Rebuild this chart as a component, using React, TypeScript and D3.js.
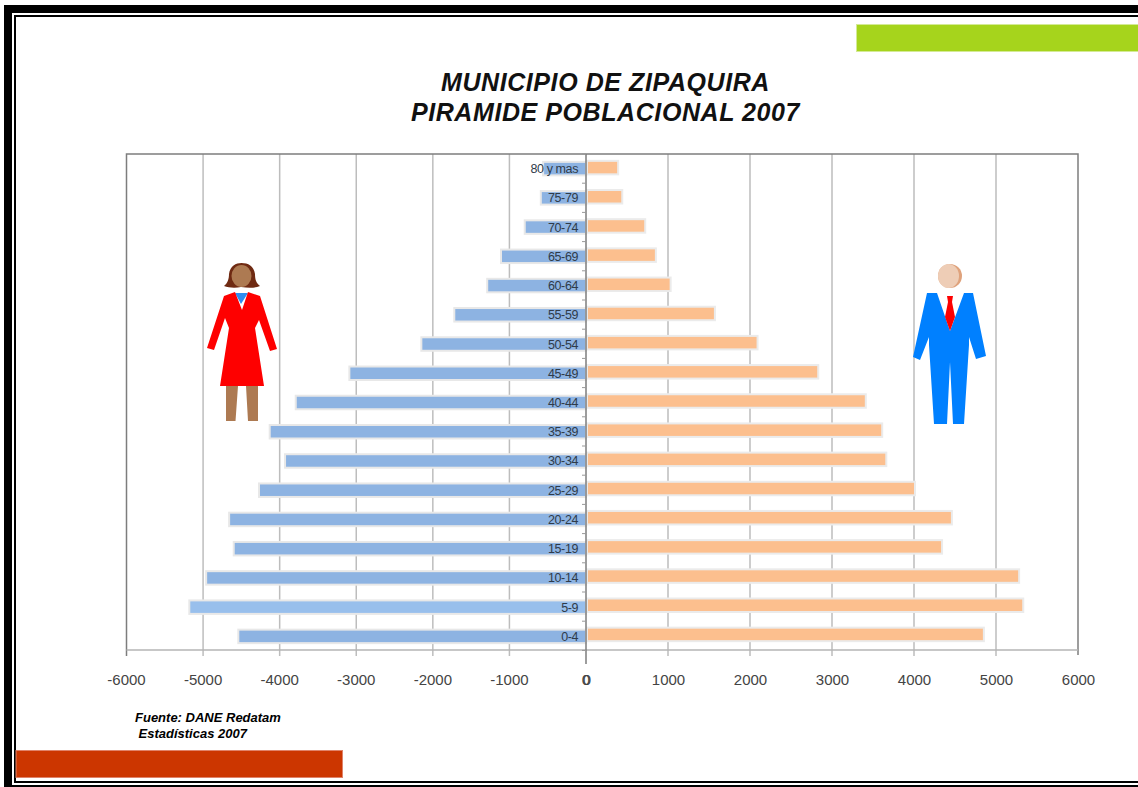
import React from "react";
import * as d3 from "d3";

const categories = ["80 y mas","75-79","70-74","65-69","60-64","55-59","50-54","45-49","40-44","35-39","30-34","25-29","20-24","15-19","10-14","5-9","0-4"];
const mujeres = [560,590,800,1110,1290,1720,2150,3090,3790,4130,3930,4270,4660,4600,4960,5180,4540];
const hombres = [380,430,710,840,1020,1560,2080,2820,3400,3600,3650,4000,4450,4330,5270,5320,4840];
const leftTicks = [-6000,-5000,-4000,-3000,-2000,-1000,0];
const rightTicks = [0,1000,2000,3000,4000,5000,6000];
const titleLines = ["MUNICIPIO DE ZIPAQUIRA","PIRAMIDE POBLACIONAL 2007"];
const sourceLines = ["Fuente: DANE Redatam","Estadísticas 2007"];

const xL = d3.scaleLinear().domain([-6000,0]).range([126.5,586]);
const xR = d3.scaleLinear().domain([0,6000]).range([586,1078]);
const yL = d3.scaleBand().domain(categories).range([154,651]);
const yR = d3.scaleBand().domain(categories).range([153,649]);
const sans = "'Liberation Sans', Arial, sans-serif";

function Woman() {
  return <g>
    <path d="M224 286 C228 283 229 278 229 274 C230 266 236 263 241.5 263 C248 263 254 266 255 274 C255 279 256 283 260 286 C255 288 249 288 241 287 C236 288 229 288 224 286Z" fill="#6f2a12"/>
    <ellipse cx="241.5" cy="276" rx="10" ry="11" fill="#ad7a52"/>
    <path d="M226 386 L238 386 L235.5 421 L226 421Z M246 386 L258 386 L258 421 L248 421Z" fill="#ad7a52" />
    <path d="M235 293 L248 293 L241 304Z" fill="#2f8cf0"/>
    <path d="M224 296 L235 292 L242 310 L248 292 L260 296 L277 349 L270 351 L259 320 L255 328 L264 386 L220 386 L229 328 L225 318 L214 350 L207 348Z" fill="#fe0000"/>
  </g>;
}
function Man() {
  return <g>
    <circle cx="950" cy="276" r="12" fill="#dfa27c"/>
    <ellipse cx="948.5" cy="276" rx="10.5" ry="12" fill="#eecdb6"/>
    <path d="M927 293 L937 293 L950 331 L964 293 L973 293 L986 356 L976 359 L969 337 L969 345 L964 424 L953 424 L950 362 L947 424 L934 424 L929 345 L929 337 L920 360 L913 357Z" fill="#0080ff"/>
    <path d="M947 296 L953 296 L952 302 L955 317 L950 331 L945 317 L948 302Z" fill="#fe0000"/>
  </g>;
}

export default function App() {
  return (
    <svg width={1138} height={787} style={{position:"absolute",left:0,top:0,background:"#fff"}} fontFamily={sans}>
      <rect x={4} y={5} width={1134} height={8} fill="#000"/>
      <rect x={4} y={5} width={8} height={782} fill="#000"/>
      <rect x={14} y={15} width={1124} height={2} fill="#000"/>
      <rect x={14} y={15} width={2} height={768} fill="#000"/>
      <rect x={14} y={781} width={1124} height={2} fill="#000"/>
      <rect x={4} y={785} width={1134} height={2} fill="#000"/>

      <rect x={856.5} y={24.5} width={282} height={27} fill="#a6d41c" stroke="#d4ea96" strokeWidth={1}/>
      <rect x={16} y={750.5} width={326.5} height={27} fill="#cc3600" stroke="#e0836a" strokeWidth={1}/>

      <g fontWeight="bold" fontStyle="italic" fontSize={25} textAnchor="middle" fill="#111" style={{letterSpacing:"0.58px"}}>
        {titleLines.map((t,i)=><text key={t} x={605.5} y={90.5+i*30.5}>{t}</text>)}
      </g>

      {leftTicks.filter(t=>t>-6000&&t<0).map(t=><line key={t} x1={xL(t)} x2={xL(t)} y1={154} y2={656} stroke="#bdbdbd" strokeWidth={1.5}/>)}
      {rightTicks.filter(t=>t>0&&t<6000).map(t=><line key={t} x1={xR(t)} x2={xR(t)} y1={154} y2={656} stroke="#bdbdbd" strokeWidth={1.5}/>)}
      <path d={`M${xL(-6000)} 656V154H${xR(6000)}V655`} fill="none" stroke="#7d7d7d" strokeWidth={1.5}/>
      <line x1={xL(-6000)} x2={xR(6000)} y1={650} y2={650} stroke="#b5b5b5" strokeWidth={1.5}/>

      {categories.map((c,i)=>{
        const y=yL(c)!+yL.bandwidth()/2;
        return <rect key={c} x={xL(-mujeres[i])} y={y-6.75} width={xL(0)-xL(-mujeres[i])} height={13.5} fill={c==="5-9"?"#98bfec":"#8db3e2"} stroke="#e8e8e8" strokeWidth={2}/>;
      })}
      {categories.map((c,i)=>{
        const y=yR(c)!+yR.bandwidth()/2;
        return <rect key={c} x={xR(0)+1} y={y-6.75} width={xR(hombres[i])-xR(0)} height={13.5} fill="#fcbf8e" stroke="#ebebeb" strokeWidth={2}/>;
      })}

      <line x1={586} x2={586} y1={154} y2={664} stroke="#7d7d7d" strokeWidth={1.5}/>
      {d3.range(18).map(i=><line key={i} x1={582} x2={586} y1={154+i*29.2} y2={154+i*29.2} stroke="#999"/>)}

      <g fontSize={12.5} fill="#2f3b4a" textAnchor="end">
        {categories.map(c=><text key={c} x={578} y={yL(c)!+yL.bandwidth()/2+4.5} style={{letterSpacing:"-0.4px"}}>{c}</text>)}
      </g>

      <g fontSize={15} fill="#444" textAnchor="middle">
        {leftTicks.map(t=><text key={"l"+t} x={xL(t)} y={685}>{t}</text>)}
        {rightTicks.map(t=><text key={"r"+t} x={xR(t)+ (t===0?0.8:0.5)} y={685}>{t}</text>)}
      </g>

      <Woman/>
      <Man/>

      <g fontSize={13} fontWeight="bold" fontStyle="italic" fill="#000">
        <text x={135} y={722}>{sourceLines[0]}</text>
        <text x={138.5} y={738}>{sourceLines[1]}</text>
      </g>
    </svg>
  );
}
